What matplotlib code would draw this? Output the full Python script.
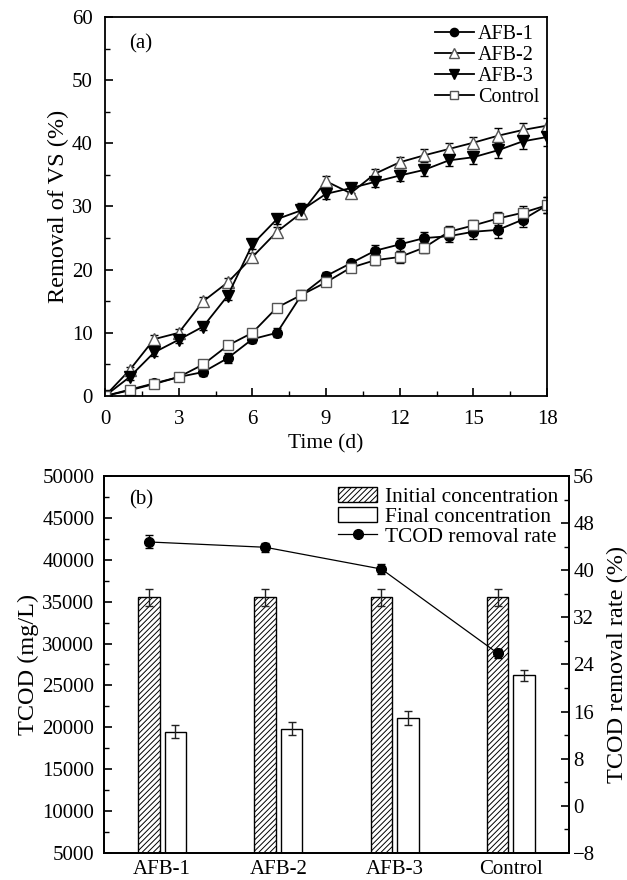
import matplotlib
matplotlib.use("Agg")
import matplotlib.pyplot as plt
import numpy as np
from matplotlib.ticker import MultipleLocator

plt.rcParams['font.family'] = ['Liberation Serif', 'DejaVu Serif']
plt.rcParams['mathtext.fontset'] = 'stix'
plt.rcParams['hatch.linewidth'] = 0.7
plt.rcParams['hatch.color'] = '#444444'

# ---------- panel (a) data ----------
days = list(range(0, 19))
afb1 = [0, 1.0, 2.0, 3.0, 3.8, 6.0, 9.0, 10.0, 16.0, 19.0, 21.0, 23.0, 24.0, 25.0, 25.3, 26.0, 26.3, 27.9, 30.2]
afb1_err = [0, 0.4, 0.4, 0.4, 0.6, 0.8, 0.6, 0.7, 0.8, 0.7, 0.6, 0.9, 1.0, 1.0, 1.0, 1.1, 1.3, 1.2, 1.3]
afb2 = [0, 4.1, 9.0, 10.0, 15.0, 18.0, 22.0, 26.0, 29.0, 34.0, 32.1, 35.2, 37.0, 38.1, 39.1, 40.1, 41.2, 42.1, 42.8]
afb2_err = [0, 0.5, 0.6, 0.6, 0.6, 0.7, 0.7, 0.8, 1.0, 0.8, 0.8, 0.8, 0.9, 1.0, 0.9, 0.9, 1.2, 1.1, 1.2]
afb3 = [0, 3.0, 6.9, 8.9, 11.0, 15.9, 24.0, 28.0, 29.4, 32.0, 32.9, 33.9, 34.9, 35.8, 37.3, 37.8, 38.9, 40.3, 41.0]
afb3_err = [0, 0.5, 0.5, 0.5, 0.6, 0.7, 0.7, 0.8, 1.2, 0.8, 0.7, 0.8, 0.8, 0.9, 0.9, 1.0, 1.3, 1.2, 1.4]
ctrl = [0, 0.9, 1.9, 3.0, 5.0, 8.0, 10.0, 14.0, 16.0, 18.0, 20.3, 21.5, 22.0, 23.5, 26.0, 27.0, 28.1, 29.0, 30.2]
ctrl_err = [0, 0.3, 0.3, 0.4, 0.5, 0.6, 0.5, 0.6, 0.7, 0.6, 0.6, 0.7, 1.0, 0.8, 0.9, 0.9, 1.1, 1.0, 1.3]

# ---------- panel (b) data ----------
groups = ['AFB-1', 'AFB-2', 'AFB-3', 'Control']
initial = [35500, 35500, 35500, 35500]
initial_err = [1000, 1000, 1000, 1000]
final = [19500, 19850, 21150, 26200]
final_err = [800, 800, 850, 700]
removal = [44.8, 43.9, 40.2, 25.9]
removal_err = [1.1, 0.8, 0.8, 0.8]

fig = plt.figure(figsize=(6.27, 8.8), dpi=100)
FS = 15      # tick labels / legend
LFS = 17.5   # axis labels

# ---------- (a) ----------
ax1 = fig.add_axes([0.1675, 0.55, 0.705, 0.4307])
series = [
    (afb1, afb1_err, 'AFB-1', dict(marker='o', mfc='black', mec='black', ms=7)),
    (afb2, afb2_err, 'AFB-2', dict(marker='^', mfc='white', mec='#555555', ms=8)),
    (afb3, afb3_err, 'AFB-3', dict(marker='v', mfc='black', mec='black', ms=8)),
    (ctrl, ctrl_err, 'Control', dict(marker='s', mfc='white', mec='#555555', ms=7)),
]
handles = []
for vals, err, lab, mk in series:
    h = ax1.errorbar(days, vals, yerr=err, color='black', lw=1.3, capsize=3,
                     elinewidth=1.0, capthick=1.0, label=lab, mew=1.0, **mk)
    handles.append(h)
ax1.set_xlim(0, 18)
ax1.set_ylim(0, 60)
ax1.xaxis.set_major_locator(MultipleLocator(3))
ax1.xaxis.set_minor_locator(MultipleLocator(1.5))
ax1.yaxis.set_major_locator(MultipleLocator(10))
ax1.yaxis.set_minor_locator(MultipleLocator(5))
ax1.tick_params(which='both', direction='in', labelsize=FS, top=False, right=False)
ax1.tick_params(axis='y', which='major', pad=9)
ax1.tick_params(axis='x', which='major', pad=10)
ax1.tick_params(which='major', length=6, width=1.2)
ax1.tick_params(which='minor', length=3.5, width=1.0)
ax1.set_xlabel('Time (d)', fontsize=FS + 0.5, labelpad=4)
ax1.set_ylabel('Removal of VS (%)', fontsize=LFS, labelpad=2)
ax1.text(0.055, 0.955, '(a)', transform=ax1.transAxes, fontsize=FS, va='top')
leg_handles = [h.lines[0] for h in handles]
ax1.legend(leg_handles, [s[2] for s in series], loc='upper right', frameon=False,
           fontsize=FS - 0.5, handlelength=1.9, handletextpad=0.2, labelspacing=0.1,
           borderaxespad=0.2, borderpad=0.2, markerscale=0.85)
for sp in ax1.spines.values():
    sp.set_linewidth(1.3)

# ---------- (b) ----------
ax2 = fig.add_axes([0.1659, 0.0307, 0.7416, 0.4284])
x = np.arange(len(groups))
w = 0.185
off = 0.113
ax2.bar(x - off, initial, width=w, yerr=initial_err, color='white',
        edgecolor='black', hatch='//////', lw=1.0, capsize=3,
        error_kw=dict(elinewidth=1.0, capthick=1.0, ecolor='#222222'),
        label='Initial concentration')
ax2.bar(x + off, final, width=w, yerr=final_err, color='white',
        edgecolor='black', lw=1.0, capsize=3,
        error_kw=dict(elinewidth=1.0, capthick=1.0, ecolor='#222222'),
        label='Final concentration')
ax2.set_xlim(-0.5, 3.5)
ax2.set_ylim(5000, 50000)
ax2.set_xticks(x)
ax2.set_xticklabels(groups)
ax2.tick_params(axis='x', length=0, labelsize=FS, pad=5)
ax2.yaxis.set_major_locator(MultipleLocator(5000))
ax2.yaxis.set_minor_locator(MultipleLocator(2500))
ax2.tick_params(axis='y', which='both', direction='in', labelsize=FS)
ax2.tick_params(axis='y', which='major', length=6, width=1.2, pad=7)
ax2.tick_params(axis='y', which='minor', length=3.5, width=1.0)
ax2.set_ylabel('TCOD (mg/L)', fontsize=LFS, labelpad=2)
ax2.text(0.055, 0.962, '(b)', transform=ax2.transAxes, fontsize=FS, va='top')

ax3 = ax2.twinx()
ax3.errorbar(x - off, removal, yerr=removal_err, color='black', lw=0.9,
             marker='o', ms=7, mfc='black', mec='black', capsize=3,
             elinewidth=1.0, capthick=1.0, label='TCOD removal rate')
ax3.set_ylim(-8, 56)
ax3.yaxis.set_major_locator(MultipleLocator(8))
ax3.yaxis.set_minor_locator(MultipleLocator(4))
ax3.tick_params(axis='y', which='both', direction='in', labelsize=FS)
ax3.tick_params(axis='y', which='major', length=6, width=1.2, pad=3)
ax3.tick_params(axis='y', which='minor', length=3.5, width=1.0)
ax3.set_yticks(ax3.get_yticks())
ax3.set_yticklabels([('\u2212' + str(int(-t))) if t < 0 else str(int(t)) for t in ax3.get_yticks()])
ax3.set_ylim(-8, 56)
ax3.set_ylabel('TCOD removal rate (%)', fontsize=LFS, labelpad=8)
for a in (ax2, ax3):
    for sp in a.spines.values():
        sp.set_linewidth(1.3)

h2, l2 = ax2.get_legend_handles_labels()
h3, l3 = ax3.get_legend_handles_labels()
ax3.legend(h2 + [h3[0].lines[0]], l2 + l3,
           loc='upper right', frameon=False, fontsize=FS + 0.4, handlelength=1.8,
           handletextpad=0.38, labelspacing=0.0, borderaxespad=0.4, borderpad=0.1)

fig.savefig('out.png', dpi=100)
